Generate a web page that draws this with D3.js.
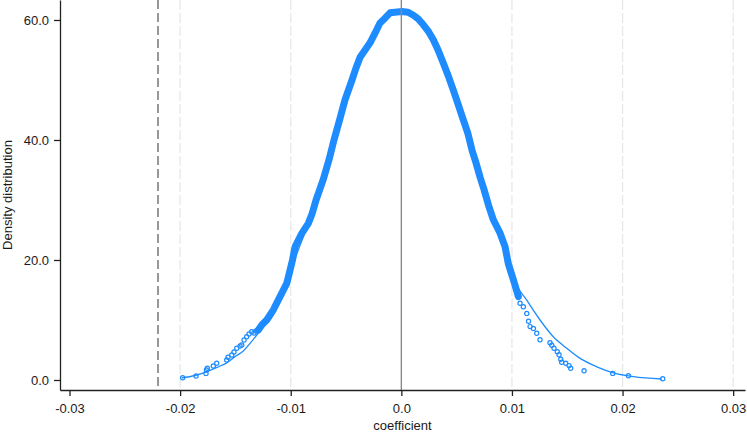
<!DOCTYPE html>
<html>
<head>
<meta charset="utf-8">
<script src="https://cdn.jsdelivr.net/npm/d3@7"></script>
<style>
  body { margin: 0; background: #fff; }
  text { font-family: Arial, "Liberation Sans", sans-serif; }
</style>
</head>
<body>
<script>
const outerWidth = 747;
const outerHeight = 432;

// kernel density points (coefficient, density)
const kdeCoef = [
  -0.01977, -0.01856, -0.01766, -0.01762, -0.01754, -0.0170, -0.01669, -0.01579, -0.01567, -0.01533,
  -0.01513, -0.01488, -0.01458, -0.01443, -0.01422, -0.01398, -0.01377, -0.01353, -0.01332, -0.01314,
  -0.01293, -0.0126, -0.01217, -0.01157, -0.01097, -0.01036, -0.01006, -0.00984, -0.00961, -0.00901,
  -0.00841, -0.00807, -0.00771, -0.00708, -0.00654, -0.00609, -0.00559, -0.00509, -0.00446, -0.0041,
  -0.00373, -0.00328, -0.00283, -0.00238, -0.00193, -0.00148, -0.00102, -0.00057, 0.00004, 0.00061,
  0.00109, 0.00151, 0.00199, 0.00241, 0.00289, 0.00332, 0.0038, 0.00422, 0.0047, 0.00512,
  0.00561, 0.00603, 0.00639, 0.00675, 0.00712, 0.00748, 0.00787, 0.00832, 0.00892, 0.00938,
  0.00967, 0.01013, 0.01058, 0.01073, 0.01103, 0.01134, 0.0115, 0.01164, 0.01194, 0.01224,
  0.01254, 0.01344, 0.0136, 0.0138, 0.0141, 0.01426, 0.01441, 0.0145, 0.01486, 0.01516,
  0.01531, 0.01652, 0.01911, 0.02053, 0.02363
];
const kdeDensity = [
  0.38, 0.67, 1.1, 1.67, 1.95, 2.33, 2.8, 3.33, 3.8, 4.17,
  4.67, 5.28, 5.67, 5.83, 6.67, 7.2, 7.67, 8.05, 7.83, 8.17,
  8.33, 9.2, 10.0, 11.7, 13.9, 16.1, 18.3, 20.0, 22.2, 24.4,
  26.1, 27.7, 30.0, 33.3, 36.7, 40.0, 43.3, 46.7, 50.0, 52.0,
  53.8, 55.0, 56.2, 57.8, 59.5, 60.3, 61.2, 61.3, 61.4, 61.3,
  60.8, 60.2, 59.2, 58.2, 56.7, 55.0, 52.8, 50.8, 48.3, 46.0,
  43.3, 41.0, 38.3, 36.2, 33.8, 31.7, 29.2, 26.7, 24.5, 22.2,
  19.4, 16.7, 13.9, 12.8, 12.2, 11.1, 9.8, 8.9, 8.6, 7.8,
  6.7, 6.2, 5.8, 5.3, 4.7, 4.2, 3.45, 2.95, 2.8, 2.4,
  1.95, 1.55, 1.1, 0.72, 0.22
];
// where the points are so dense that they merge into one thick band
const bandFrom = -0.0130;
const bandTo = 0.0106;

// fitted normal line
const normCoef = [
  -0.01986, -0.01865, -0.01757, -0.01667, -0.01576, -0.01504, -0.01431, -0.01341, -0.01248, -0.0116,
  -0.0107, -0.01006, -0.008, -0.006, -0.004, -0.002, 0, 0.002, 0.004, 0.006,
  0.008, 0.0095, 0.0101, 0.01134, 0.01254, 0.01374, 0.01495, 0.01616, 0.01767, 0.01917,
  0.02098, 0.02354
];
const normDensity = [
  0.35, 0.75, 1.4, 2.1, 2.9, 3.9, 4.8, 6.7, 8.9, 10.8,
  14.7, 18, 28.3, 40, 52, 59, 61.3, 59, 51.8, 41,
  28.8, 21.5, 17.2, 13.3, 10, 7.2, 5.3, 3.6, 2.2, 1.2,
  0.56, 0.17
];

const refLine = -0.022; // dashed reference line
const xTicks = [-0.03, -0.02, -0.01, 0, 0.01, 0.02, 0.03];
const xTickLabels = ['-0.03', '-0.02', '-0.01', '0.0', '0.01', '0.02', '0.03'];
const yTicks = [0, 20, 40, 60];
const yTickLabels = ['0.0', '20.0', '40.0', '60.0'];

const blue = '#1e8cff';

const svg = d3.select('body').append('svg')
    .attr('width', outerWidth)
    .attr('height', outerHeight);

// scales
const xScale = d3.scaleLinear()
  .domain([-0.03086, 0.03107])
  .range([60, 745]);
const yScale = d3.scaleLinear()
  .domain([-1.667, 63.33])
  .range([390, 0]);

// light dashed grid at the x ticks
svg.append('g')
  .selectAll('line')
  .data(xTicks.filter(d => d !== 0 && d !== -0.03))
  .enter()
  .append('line')
    .attr('x1', d => xScale(d)).attr('x2', d => xScale(d))
    .attr('y1', 0).attr('y2', 390)
    .attr('stroke', '#e6e6e6')
    .attr('stroke-width', 1.2)
    .attr('stroke-dasharray', '10,3');

// dashed reference line
svg.append('line')
    .attr('x1', xScale(refLine)).attr('x2', xScale(refLine))
    .attr('y1', 0).attr('y2', 390)
    .attr('stroke', '#767676')
    .attr('stroke-width', 1.5)
    .attr('stroke-dasharray', '9,4');

// normal line
const normData = normCoef.map((c, i) => ({ c: c, d: normDensity[i] }));
svg.append('path')
    .datum(normData)
    .attr('fill', 'none')
    .attr('stroke', blue)
    .attr('stroke-width', 1.3)
    .attr('d', d3.line()
      .curve(d3.curveMonotoneX)
      .x(d => xScale(d.c))
      .y(d => yScale(d.d)));

// kernel density points
const kdeData = kdeCoef.map((c, i) => ({ c: c, d: kdeDensity[i] }));
svg.append('path')
    .datum(kdeData.filter(d => d.c >= bandFrom && d.c <= bandTo))
    .attr('fill', 'none')
    .attr('stroke', blue)
    .attr('stroke-width', 7)
    .attr('stroke-linejoin', 'round')
    .attr('stroke-linecap', 'round')
    .attr('d', d3.line()
      .x(d => xScale(d.c))
      .y(d => yScale(d.d)));

svg.append('g')
  .selectAll('circle')
  .data(kdeData)
  .enter()
  .append('circle')
    .attr('cx', d => xScale(d.c))
    .attr('cy', d => yScale(d.d))
    .attr('r', 2.1)
    .attr('fill', 'none')
    .attr('stroke', blue)
    .attr('stroke-width', 1.2);

// zero line on top
svg.append('line')
    .attr('x1', xScale(0)).attr('x2', xScale(0))
    .attr('y1', 0).attr('y2', 390)
    .attr('stroke', '#8a8a8a')
    .attr('stroke-width', 1.4);

// axes
const xAxis = d3.axisBottom(xScale)
  .tickValues(xTicks)
  .tickFormat((d, i) => xTickLabels[i])
  .tickSize(6)
  .tickPadding(8)
  .tickSizeOuter(0);
const yAxis = d3.axisLeft(yScale)
  .tickValues(yTicks)
  .tickFormat((d, i) => yTickLabels[i])
  .tickSize(6)
  .tickPadding(5)
  .tickSizeOuter(0);

svg.append('g')
    .attr('transform', 'translate(0,390)')
    .call(xAxis)
    .call(g => g.selectAll('text').attr('font-size', 13).attr('fill', '#1a1a1a'))
    .call(g => g.selectAll('line, path').attr('stroke', '#222').attr('stroke-width', 1.3));
svg.append('g')
    .attr('transform', 'translate(60,0)')
    .call(yAxis)
    .call(g => g.selectAll('text').attr('font-size', 13).attr('fill', '#1a1a1a'))
    .call(g => g.selectAll('line, path').attr('stroke', '#222').attr('stroke-width', 1.3));

// axis titles
svg.append('text')
    .attr('x', 402.5)
    .attr('y', 430)
    .attr('text-anchor', 'middle')
    .attr('font-size', 13)
    .attr('fill', '#1a1a1a')
    .text('coefficient');
svg.append('text')
    .attr('transform', 'translate(12,195) rotate(-90)')
    .attr('text-anchor', 'middle')
    .attr('font-size', 13)
    .attr('fill', '#1a1a1a')
    .text('Density distribution');
</script>
</body>
</html>
